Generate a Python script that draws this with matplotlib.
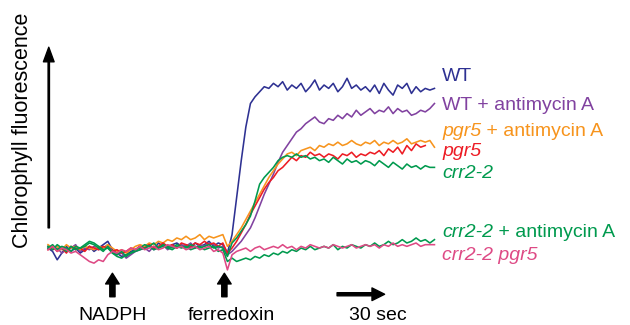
import numpy as np
import matplotlib
matplotlib.use("Agg")
import matplotlib.pyplot as plt

# sampling: one point every 3 s
dt = 3.0
nadph_time = 42.0
ferredoxin_time = 115.0

wt = [0, -2, -7, -3, 1, -2, 0, -3, -1, 1,
      -2, 0, 2, 4, -1, -3, -5, -4, -2, -1,
      1, 0, 2, -1, 3, 1, 0, 2, 3, 1,
      2, 0, 3, 1, 2, 4, 1, 3, 2, -3,
      8, 30, 52, 72, 86, 90, 93, 96, 95, 98,
      96, 99, 94, 97, 95, 98, 93, 96, 100, 94,
      97, 95, 98, 93, 96, 101, 95, 97, 94, 96,
      93, 97, 92, 98, 94, 91, 97, 95, 98, 92,
      96, 93, 95, 94, 95]

wt_aa = [1, -1, 0, -3, -1, 0, 2, -2, 0, -1,
         1, -1, 0, 2, -2, -4, -3, -6, -4, -2,
         -1, 0, -2, 1, 0, 2, -1, 1, 0, 2,
         1, 3, 0, 2, 1, 3, 2, 0, 1, -4,
         -2, 1, 4, 8, 12, 18, 25, 32, 38, 44,
         51, 57, 61, 65, 69, 71, 74, 76, 78, 75,
         74, 77, 76, 79, 77, 80, 78, 82, 79, 81,
         83, 80, 82, 81, 84, 80, 83, 81, 82, 79,
         80, 82, 81, 83, 86]

pgr5_aa = [2, 0, 1, -1, 2, 0, 1, -1, 1, 0,
           -1, 1, 0, 2, 0, -2, -1, -3, -1, 1,
           2, 1, 3, 2, 4, 3, 5, 4, 6, 5,
           7, 5, 6, 8, 5, 7, 6, 7, 8, 1,
           4, 8, 12, 17, 22, 27, 32, 37, 42, 46,
           50, 53, 56, 57, 55, 58, 59, 60, 58, 61,
           60, 62, 61, 63, 61, 62, 64, 62, 61, 63,
           62, 64, 61, 63, 62, 64, 62, 63, 65, 62,
           63, 64, 63, 64, 60]

pgr5 = [-1, 1, -2, 0, -3, 1, -1, 0, -2, 1,
        0, -1, 1, 0, -2, -1, -3, -2, 0, -1,
        1, 0, 2, 0, 1, 3, 1, 2, 0, 3,
        2, 1, 3, 2, 4, 2, 3, 1, 3, -3,
        0, 4, 9, 14, 20, 25, 30, 35, 39, 42,
        46, 48, 51, 54, 52, 55, 54, 57, 55, 56,
        54, 56, 55, 53, 56, 55, 57, 54, 56, 55,
        57, 56, 58, 55, 59, 57, 60, 56, 61, 58,
        62, 60, 61, np.nan, np.nan]

crr2 = [1, -1, 2, 0, -2, 1, -1, 0, 2, 4,
        3, 1, -1, 0, -3, -5, -6, -4, -3, -1,
        0, 2, 1, 3, 0, 2, 1, 0, 2, 1,
        0, 2, 1, 0, 1, 2, 0, 1, 0, -5,
        3, 6, 10, 14, 19, 28, 38, 42, 45, 48,
        52, 54, 55, 54, 56, 54, 55, 53, 54, 52,
        53, 51, 54, 52, 50, 53, 51, 52, 50, 52,
        51, 49, 52, 50, 48, 51, 49, 47, 50, 48,
        49, 47, 49, 48, 48]

crr2_aa = [0, 2, -1, 1, 0, -2, 1, 0, 1, 3,
           2, 0, -2, 1, -3, -4, -2, -5, -3, -2,
           -1, 0, 1, -1, 0, 1, 0, -1, 1, 0,
           1, -1, 0, 1, -1, 0, 1, -2, -1, -8,
           -6, -8, -7, -6, -7, -5, -6, -4, -5, -3,
           -4, -2, -3, -1, -2, 0, -1, 1, -1, 0,
           1, 0, 2, -1, 1, 0, 2, 1, 0, 2,
           1, 3, 1, 2, 4, 2, 3, 5, 3, 4,
           6, 4, 5, 3, 5]

crr2_pgr5 = [-1, 1, -2, 0, -1, -3, -2, -4, -6, -8,
             -9, -7, -8, -4, -2, -3, -1, -2, 0, -1,
             1, -1, 0, 1, -1, 0, 2, 1, 0, 1,
             -1, 0, 1, -1, 0, 1, -2, -1, -3, -13,
             -4, -2, -1, 0, -2, 0, 1, -1, 0, 1,
             0, 2, 0, 1, -1, 1, 0, 2, 1, 0,
             1, 0, 2, 1, 0, 1, 2, 0, 1, 2,
             1, 2, 0, 2, 1, 3, 1, 2, 1, 2,
             3, 1, 2, 2, 2]

# (values, colour, label parts as (text, italic))
traces = [
    (wt, "#2e3192", [("WT", False)]),
    (wt_aa, "#8142a0", [("WT + antimycin A", False)]),
    (pgr5_aa, "#f7941d", [("pgr5", True), (" + antimycin A", False)]),
    (pgr5, "#ed1c24", [("pgr5", True)]),
    (crr2, "#009a4e", [("crr2-2", True)]),
    (crr2_aa, "#009a4e", [("crr2-2", True), (" + antimycin A", False)]),
    (crr2_pgr5, "#de4a85", [("crr2-2 pgr5", True)]),
]
label_y = [102, 85, 69.5, 57.5, 44.5, 9, -4.2]

plt.rcParams["font.family"] = ["Liberation Sans", "DejaVu Sans"]

fig = plt.figure(figsize=(6.3, 3.25), dpi=100)
ax = fig.add_axes([0, 0, 1, 1])
ax.set_xlim(-31.3, 379.5)
ax.set_ylim(-45.8, 147.6)
ax.axis("off")

for vals, col, _ in traces:
    t = np.arange(len(vals)) * dt
    ax.plot(t, np.array(vals, dtype=float), color=col, lw=1.15)

fig.canvas.draw()
renderer = fig.canvas.get_renderer()
t_end = (len(wt) - 1) * dt
for (vals, col, parts), ly in zip(traces, label_y):
    xp, yp = ax.transData.transform((t_end + 5, ly))
    for txt, it in parts:
        tx = ax.text(xp, yp, txt, transform=None, color=col, fontsize=14,
                     style="italic" if it else "normal", va="center", ha="left")
        xp = tx.get_window_extent(renderer).x1

# y axis arrow
ax.annotate("", xy=(0.5, 119.5), xytext=(0.5, 12),
            arrowprops=dict(arrowstyle="simple,head_length=0.75,head_width=0.55,tail_width=0.07",
                            color="black", shrinkA=0, shrinkB=0, mutation_scale=14))
ax.text(-16.5, 70, "Chlorophyll fluorescence", rotation=90, fontsize=15.5,
        ha="center", va="center")

# event arrows
for tt in [nadph_time, ferredoxin_time]:
    ax.annotate("", xy=(tt, -15), xytext=(tt, -29),
                arrowprops=dict(arrowstyle="simple,head_length=0.55,head_width=0.7,tail_width=0.27",
                                color="black", shrinkA=0, shrinkB=0, mutation_scale=14))
ax.text(nadph_time, -43, "NADPH", fontsize=14, ha="center", va="baseline")
ax.text(ferredoxin_time + 4.5, -43, "ferredoxin", fontsize=14, ha="center", va="baseline")

# 30 s scale arrow
ax.annotate("", xy=(219.5, -27.5), xytext=(188.5, -27.5),
            arrowprops=dict(arrowstyle="simple,head_length=0.65,head_width=0.65,tail_width=0.16",
                            color="black", shrinkA=0, shrinkB=0, mutation_scale=14))
ax.text(215, -43, "30 sec", fontsize=14, ha="center", va="baseline")

fig.savefig("out.png", dpi=100)
